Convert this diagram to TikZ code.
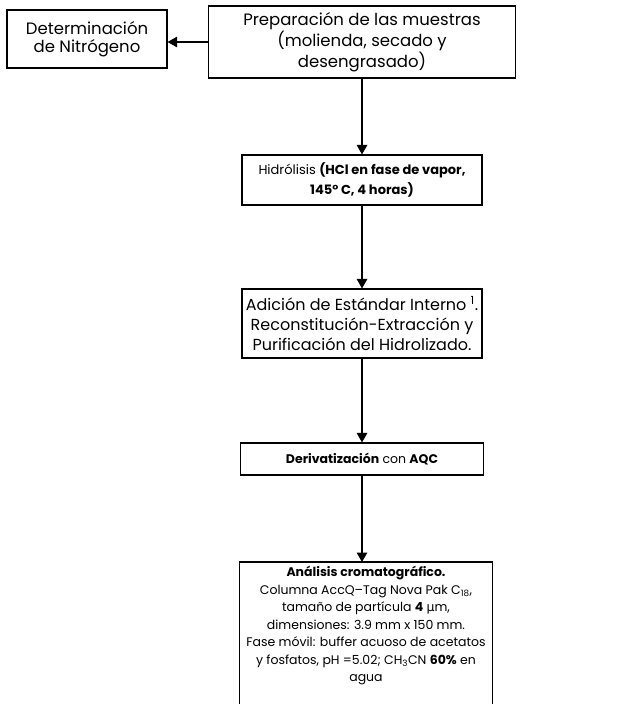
\documentclass[tikz,border=0pt]{standalone}
\usepackage{fontspec}
\setmainfont{Poppins}
\newfontfamily\symfont{DejaVu Sans}
\usetikzlibrary{arrows.meta, positioning}

\begin{document}
\begin{tikzpicture}[x=1pt, y=1pt,
  every node/.style={font=\fontsize{12.5}{17.5}\selectfont},
  box/.style={rectangle, draw, line width=1.1pt, align=center, inner sep=2pt},
  big/.style={font=\fontsize{16.5}{21}\selectfont},
  flow/.style={line width=1.3pt, -{Triangle[width=10.5pt, length=9.5pt]}},
]
\useasboundingbox (0,0) rectangle (622,-704);

\node[box, big, minimum width=160pt, minimum height=58pt, font=\fontsize{16.5}{18.5}\selectfont] (det) at (87,-39) {Determinación\\de Nitrógeno};
\node[box, big, minimum width=307pt, minimum height=72pt] (prep) at (362,-42) {Preparación de las muestras\\(molienda, secado y\\desengrasado)};
\node[box, minimum width=240pt, minimum height=50pt, font=\fontsize{13}{20}\selectfont] (hid) at (362,-180) {Hidrólisis \textbf{(HCl en fase de vapor,}\\\textbf{145° C, 4 horas)}};
\node[box, big, minimum width=240pt, minimum height=69pt, font=\fontsize{16}{20}\selectfont] (adi) at (362,-323.5) {Adición de Estándar Interno \textsuperscript{1}.\\Reconstitución-Extracción y\\Purificación del Hidrolizado.};
\node[box, minimum width=243pt, minimum height=32pt] (der) at (362,-459) {\textbf{Derivatización} con \textbf{AQC}};
\node[align=center, anchor=north, minimum width=252pt, inner sep=4pt] (ana) at (366,-562) {\textbf{Análisis cromatográfico.}\\Columna AccQ--Tag Nova Pak C\textsubscript{18},\\tamaño de partícula \textbf{4} {\symfont µ}m,\\dimensiones: 3.9 mm x 150 mm.\\Fase móvil: buffer acuoso de acetatos\\y fosfatos, pH =5.02; CH\textsubscript{3}CN \textbf{60\%} en\\agua};
\draw[line width=1.1pt] ([yshift=-150pt]ana.north west) -- (ana.north west) -- (ana.north east) -- ([yshift=-150pt]ana.north east);

% Connectors
\draw[flow] (prep.west) -- (prep.west -| det.east);
\draw[flow] (prep.south) -- (hid.north);
\draw[flow] (hid.south) -- (adi.north);
\draw[flow] (adi.south) -- (der.north);
\draw[flow] (der.south) -- (der.south |- ana.north);
\end{tikzpicture}
\end{document}
